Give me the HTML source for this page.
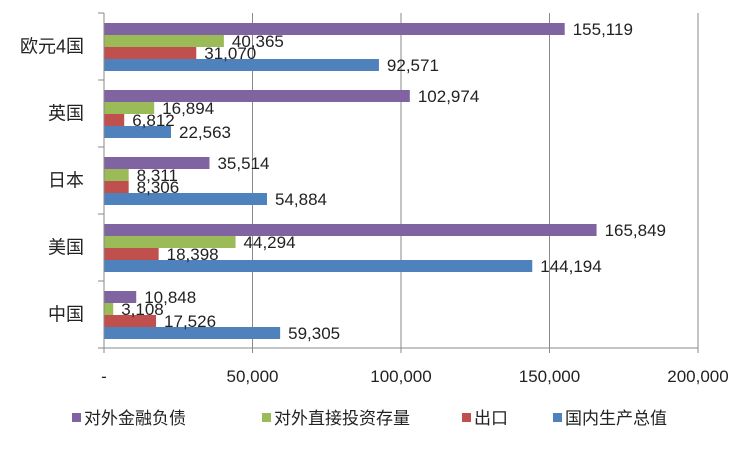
<!DOCTYPE html>
<html><head><meta charset="utf-8"><style>
body{margin:0;background:#fff;}
svg text{font-family:"Liberation Sans","Noto Sans CJK SC",sans-serif;fill:#222;}
</style></head><body>
<svg id="chart" width="739" height="445" viewBox="0 0 739 445" xmlns="http://www.w3.org/2000/svg">
<g id="grid"></g><g id="bars"></g><g id="labels"></g><g id="axes"></g><g id="legend"></g>
</svg>
<script>
const categories = ["欧元4国","英国","日本","美国","中国"];
const seriesNames = ["对外金融负债","对外直接投资存量","出口","国内生产总值"];
const liabilities = [155119,102974,35514,165849,10848];
const fdiStock = [40365,16894,8311,44294,3108];
const exportsVals = [31070,6812,8306,18398,17526];
const gdp = [92571,22563,54884,144194,59305];
const ticks = [0,50000,100000,150000,200000];
const tickLabels = ["-","50,000","100,000","150,000","200,000"];
const colors = ["#8064A2","#9BBB59","#C0504D","#4F81BD"];
const series = [liabilities,fdiStock,exportsVals,gdp];

const NS="http://www.w3.org/2000/svg";
const X0=104,X1=698,MAX=200000,TOP=13,BAND=67,BARH=12,OFF=10;
const xs=v=>X0+(v/MAX)*(X1-X0);
const bandY=i=>TOP+i*BAND;
function mk(tag,attrs,parent,text){const e=document.createElementNS(NS,tag);for(const k in attrs)e.setAttribute(k,attrs[k]);if(text!==undefined)e.textContent=text;parent.appendChild(e);return e;}
const grid=document.getElementById('grid'),bars=document.getElementById('bars'),labels=document.getElementById('labels'),axes=document.getElementById('axes'),legend=document.getElementById('legend');
const bottom=bandY(categories.length);
ticks.forEach((t,i)=>{
  if(i>0){const g=mk('line',{x1:xs(t),x2:xs(t),y1:TOP,y2:bottom+5,stroke:'#8a8a8a','stroke-width':1},grid);
  
  }
  const tl=mk('text',{x:xs(t),y:382,'text-anchor':'middle','font-size':17},axes,tickLabels[i]);
  
  
});
const ax=mk('line',{x1:X0,x2:X0,y1:TOP,y2:bottom+5,stroke:'#8a8a8a','stroke-width':1},axes);


for(let i=0;i<=categories.length;i++){mk('line',{x1:X0-6,x2:X0,y1:bandY(i),y2:bandY(i),stroke:'#8a8a8a'},axes);}
mk('line',{x1:X0-6,x2:X1,y1:bottom,y2:bottom,stroke:'#8a8a8a'},axes);
categories.forEach((c,i)=>{
  const t=mk('text',{x:84,y:bandY(i)+BAND/2+6,'text-anchor':'end','font-size':18},axes,c);
  
  
  series.forEach((s,j)=>{
    const y=bandY(i)+OFF+j*BARH;
    const r=mk('rect',{x:X0,y:y,width:xs(s[i])-X0,height:BARH,fill:colors[j]},bars);
    
    
    const l=mk('text',{x:xs(s[i])+8,y:y+BARH/2+6,'font-size':17},labels,s[i].toLocaleString('en-US'));
    
    
  });
});
const legX=[72,262,462,553];
seriesNames.forEach((n,j)=>{
  const g=mk('g',{},legend);
  
  
  mk('rect',{x:legX[j],y:413,width:9,height:9,fill:colors[j]},g);
  mk('text',{x:legX[j]+12,y:424,'font-size':17},g,n);
});
</script>
</body></html>
